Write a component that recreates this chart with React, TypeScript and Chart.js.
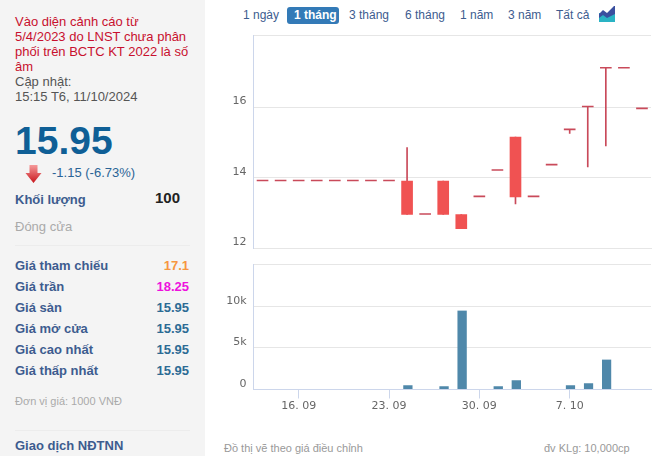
import React, { useEffect, useRef } from "react";
import { Chart, registerables } from "chart.js";

Chart.register(...registerables);

const dates = ["12. 09","13. 09","16. 09","17. 09","18. 09","19. 09","20. 09","23. 09","24. 09","25. 09","26. 09","27. 09","30. 09","1. 10","2. 10","3. 10","4. 10","7. 10","8. 10","9. 10","10. 10","11. 10"];
const opens = [13.9,13.9,13.9,13.9,13.9,13.9,13.9,13.9,13.9,12.95,13.9,12.95,13.45,14.2,13.45,13.45,14.35,15.35,16,17.1,17.1,15.95];
const closes = [13.9,13.9,13.9,13.9,13.9,13.9,13.9,13.9,12.95,12.95,12.95,12.55,13.45,14.2,15.15,13.45,14.35,15.35,16,17.1,17.1,15.95];
const highs = [13.9,13.9,13.9,13.9,13.9,13.9,13.9,13.9,14.85,12.95,13.9,12.95,13.45,14.2,15.15,13.45,14.35,15.35,16,17.1,17.1,15.95];
const lows = [13.9,13.9,13.9,13.9,13.9,13.9,13.9,13.9,12.95,12.95,12.95,12.55,13.45,14.2,13.25,13.45,14.35,15.25,14.3,14.9,17.1,15.95];
const volumes = [0,0,0,0,0,0,0,0,520,0,400,9520,0,400,1110,0,0,520,750,3610,0,0];
const priceTicks = [12,14,16];
const volumeTicks = [0,5000,10000];
const dateTickIndexes = [2,7,12,17];
const ranges = ["1 ngày","1 tháng","3 tháng","6 tháng","1 năm","3 năm","Tất cả"];
const rangeX = [243,287,349,405,460,508,556];
const rows = [["Giá tham chiếu","17.1"],["Giá trần","18.25"],["Giá sàn","15.95"],["Giá mở cửa","15.95"],["Giá cao nhất","15.95"],["Giá thấp nhất","15.95"]];
const rowColors = ["#f7963f","#ee11dd","#2c6b94","#2c6b94","#2c6b94","#2c6b94"];
const rowY = [266,287,308,329,350,371];

const PRICE_MAX = 18.03;
const VOL_MAX = 15060;
const axisFont = { family: "'DejaVu Sans'", size: 11 };
const axisColor = "#666666";
const gridColor = "#e6e6e6";
const axisLine = "#ccd6eb";

function T(p: { x: number; y: number; s?: number; c?: string; b?: boolean; r?: number; t: string }) {
  const lh = 20;
  const st: React.CSSProperties = {
    position: "absolute",
    top: p.y - lh / 2,
    lineHeight: lh + "px",
    fontSize: p.s ?? 13,
    color: p.c ?? "#3d5c8f",
    fontWeight: p.b ? 700 : 400,
    whiteSpace: "nowrap",
  };
  if (p.r !== undefined) st.right = 663 - p.r;
  else st.left = p.x;
  return <span style={st}>{p.t}</span>;
}

export default function App() {
  const priceRef = useRef<HTMLCanvasElement>(null);
  const volRef = useRef<HTMLCanvasElement>(null);

  useEffect(() => {
    const yFit = (s: any) => { s.width = 38.5; s.paddingTop = 0; s.paddingBottom = 0; };
    const price = new Chart(priceRef.current!, {
      type: "bar",
      data: {
        labels: dates,
        datasets: [
          {
            label: "wick",
            data: dates.map((_, i) => (highs[i] > lows[i] ? [lows[i], highs[i]] : null)) as any,
            backgroundColor: "#c94a5a",
            barThickness: 1,
            grouped: false,
            order: 2,
          } as any,
          {
            label: "body",
            data: dates.map((_, i) => (opens[i] !== closes[i] ? [Math.min(opens[i], closes[i]), Math.max(opens[i], closes[i])] : null)) as any,
            backgroundColor: "#f05252",
            barThickness: 11,
            grouped: false,
            order: 1,
          } as any,
          {
            label: "flat",
            data: dates.map((_, i) => (opens[i] === closes[i] ? [opens[i], closes[i]] : null)) as any,
            backgroundColor: "#c94a5a",
            barThickness: 11,
            minBarLength: 1,
            grouped: false,
            order: 1,
          } as any,
        ],
      },
      options: {
        animation: false,
        responsive: false,
        plugins: { legend: { display: false }, tooltip: { enabled: false } },
        layout: { padding: { top: 5.5, right: 12, bottom: 7, left: 0 } },
        scales: {
          x: {
            offset: true,
            afterFit: (s: any) => { s.height = 0; s.paddingLeft = 0; s.paddingRight = 0; },
            ticks: { display: false },
            grid: { display: false, drawTicks: false },
            border: { color: gridColor },
          },
          y: {
            min: 12,
            max: PRICE_MAX,
            afterFit: yFit,
            afterBuildTicks: (s: any) => { s.ticks = [...priceTicks, PRICE_MAX].map((value) => ({ value })); },
            ticks: {
              align: "end",
              padding: 7,
              color: axisColor,
              font: axisFont,
              callback: (v: any) => (priceTicks.includes(v) ? String(v) : ""),
            },
            grid: { color: gridColor, drawTicks: false },
            border: { color: axisLine },
          },
        },
      } as any,
    });

    const vol = new Chart(volRef.current!, {
      type: "bar",
      data: {
        labels: dates,
        datasets: [
          {
            label: "KL",
            data: volumes,
            backgroundColor: "#4f88aa",
            borderColor: "rgba(0,0,0,0)",
            borderWidth: { left: 2, right: 0, top: 0, bottom: 0 },
            borderSkipped: false,
            barThickness: 11,
          } as any,
        ],
      },
      options: {
        animation: false,
        responsive: false,
        plugins: { legend: { display: false }, tooltip: { enabled: false } },
        layout: { padding: { top: 4.5, right: 12, bottom: 0, left: 0 } },
        scales: {
          x: {
            offset: true,
            afterBuildTicks: (s: any) => { s.ticks = dateTickIndexes.map((value) => ({ value })); },
            afterFit: (s: any) => { s.height = 30.5; s.paddingLeft = 0; s.paddingRight = 0; },
            ticks: {
              autoSkip: false,
              maxRotation: 0,
              padding: 1,
              color: axisColor,
              font: axisFont,
            },
            grid: { offset: false, drawOnChartArea: false, drawTicks: true, tickLength: 9, color: axisLine },
            border: { color: axisLine },
          },
          y: {
            min: 0,
            max: VOL_MAX,
            afterFit: yFit,
            afterBuildTicks: (s: any) => { s.ticks = [...volumeTicks, VOL_MAX].map((value) => ({ value })); },
            ticks: {
              align: "end",
              padding: 7,
              color: axisColor,
              font: axisFont,
              callback: (v: any) => (v === VOL_MAX ? "" : v === 0 ? "0" : v / 1000 + "k"),
            },
            grid: { color: gridColor, drawTicks: false },
            border: { color: axisLine },
          },
        },
      } as any,
    });
    return () => { price.destroy(); vol.destroy(); };
  }, []);

  return (
    <div style={{ position: "absolute", left: 0, top: 0, width: 663, height: 456, overflow: "hidden", background: "#fff", fontFamily: "'Liberation Sans', Arial, sans-serif" }}>
      <div style={{ position: "absolute", left: 0, top: 0, width: 205, height: 456, background: "#f4f4f4" }} />
      <T x={15} y={22} c="#c8102e" t="Vào diện cảnh cáo từ" />
      <T x={15} y={37} c="#c8102e" t="5/4/2023 do LNST chưa phân" />
      <T x={15} y={52} c="#c8102e" t="phối trên BCTC KT 2022 là số" />
      <T x={15} y={67} c="#c8102e" t="âm" />
      <T x={15} y={82} c="#555" t="Cập nhật:" />
      <T x={15} y={97} c="#555" t="15:15 T6, 11/10/2024" />
      <T x={15} y={141} s={39} b c="#0f5f96" t="15.95" />
      <svg style={{ position: "absolute", left: 25, top: 165 }} width={17} height={18} viewBox="0 0 17 18">
        <defs>
          <linearGradient id="ar" x1="0" y1="0" x2="0" y2="1">
            <stop offset="0" stopColor="#f59a9a" />
            <stop offset="1" stopColor="#c8161d" />
          </linearGradient>
        </defs>
        <path d="M4.5 0H12.5V8H16.5L8.5 18L0.5 8H4.5Z" fill="url(#ar)" />
      </svg>
      <T x={52} y={173} c="#2b6496" t="-1.15 (-6.73%)" />
      <T x={15} y={200} b t="Khối lượng" />
      <T x={155} y={198} s={15} b c="#222" t="100" />
      <T x={15} y={227} c="#aaa" t="Đóng cửa" />
      <div style={{ position: "absolute", left: 15, top: 245, width: 175, height: 1, background: "#ececec" }} />
      {rows.map((r, i) => (
        <React.Fragment key={r[0]}>
          <T x={15} y={rowY[i]} b t={r[0]} />
          <T x={0} r={189} y={rowY[i]} b c={rowColors[i]} t={r[1]} />
        </React.Fragment>
      ))}
      <T x={15} y={401} s={11} c="#aaa" t="Đơn vị giá: 1000 VNĐ" />
      <div style={{ position: "absolute", left: 15, top: 430, width: 175, height: 1, background: "#ececec" }} />
      <T x={15} y={446} b t="Giao dịch NĐTNN" />

      <div style={{ position: "absolute", left: 287, top: 7, width: 52, height: 17, borderRadius: 3, background: "#337ab7" }} />
      {ranges.map((r, i) => (
        <T key={r} x={i === 1 ? rangeX[i] + 7 : rangeX[i]} y={15} s={12} b={i === 1} c={i === 1 ? "#fff" : "#3d5c8f"} t={r} />
      ))}
      <svg style={{ position: "absolute", left: 599, top: 6 }} width={16} height={16} viewBox="0 0 16 16">
        <rect x="0" y="7" width="16" height="9" fill="#2ab3c4" />
        <path d="M0 8L4 4L8 7L15 0H16V8L8 12L4 9L0 12Z" fill="#3a4f9f" />
      </svg>

      <canvas ref={priceRef} width={448} height={225} style={{ position: "absolute", left: 215, top: 30 }} />
      <canvas ref={volRef} width={448} height={160} style={{ position: "absolute", left: 215, top: 260 }} />

      <T x={224} y={448} s={11} c="#999" t="Đồ thị vẽ theo giá điều chỉnh" />
      <T x={544} y={448} s={11} c="#999" t="đv KLg: 10,000cp" />
    </div>
  );
}
